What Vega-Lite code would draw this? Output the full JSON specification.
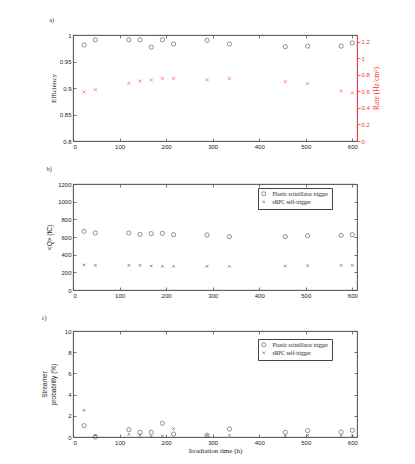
{
  "$schema": "https://vega.github.io/schema/vega-lite/v6.json",
  "padding": {"left": 41, "top": 16, "right": 5, "bottom": 5},
  "datasets": {
    "eff": [
      {"time": 24, "efficiency": 0.981, "rate": 0.592},
      {"time": 48, "efficiency": 0.991, "rate": 0.62},
      {"time": 120, "efficiency": 0.991, "rate": 0.696},
      {"time": 144, "efficiency": 0.991, "rate": 0.724},
      {"time": 168, "efficiency": 0.977, "rate": 0.736},
      {"time": 192, "efficiency": 0.991, "rate": 0.756},
      {"time": 216, "efficiency": 0.983, "rate": 0.756},
      {"time": 288, "efficiency": 0.99, "rate": 0.74},
      {"time": 336, "efficiency": 0.983, "rate": 0.756},
      {"time": 456, "efficiency": 0.978, "rate": 0.716},
      {"time": 504, "efficiency": 0.979, "rate": 0.692},
      {"time": 576, "efficiency": 0.979, "rate": 0.604},
      {"time": 600, "efficiency": 0.985, "rate": 0.58}
    ],
    "trig": [
      {"time": 24, "trigger": "Plastic scintillator trigger", "charge": 664, "streamer": 1.07},
      {"time": 48, "trigger": "Plastic scintillator trigger", "charge": 645, "streamer": 0.0},
      {"time": 120, "trigger": "Plastic scintillator trigger", "charge": 645, "streamer": 0.69},
      {"time": 144, "trigger": "Plastic scintillator trigger", "charge": 630, "streamer": 0.44},
      {"time": 168, "trigger": "Plastic scintillator trigger", "charge": 638, "streamer": 0.44},
      {"time": 192, "trigger": "Plastic scintillator trigger", "charge": 641, "streamer": 1.29},
      {"time": 216, "trigger": "Plastic scintillator trigger", "charge": 626, "streamer": 0.28},
      {"time": 288, "trigger": "Plastic scintillator trigger", "charge": 623, "streamer": 0.16},
      {"time": 336, "trigger": "Plastic scintillator trigger", "charge": 604, "streamer": 0.75},
      {"time": 456, "trigger": "Plastic scintillator trigger", "charge": 604, "streamer": 0.44},
      {"time": 504, "trigger": "Plastic scintillator trigger", "charge": 615, "streamer": 0.6},
      {"time": 576, "trigger": "Plastic scintillator trigger", "charge": 619, "streamer": 0.47},
      {"time": 600, "trigger": "Plastic scintillator trigger", "charge": 626, "streamer": 0.63},
      {"time": 24, "trigger": "sRPC self-trigger", "charge": 283, "streamer": 2.52},
      {"time": 48, "trigger": "sRPC self-trigger", "charge": 279, "streamer": 0.19},
      {"time": 120, "trigger": "sRPC self-trigger", "charge": 279, "streamer": 0.25},
      {"time": 144, "trigger": "sRPC self-trigger", "charge": 279, "streamer": 0.16},
      {"time": 168, "trigger": "sRPC self-trigger", "charge": 272, "streamer": 0.06},
      {"time": 192, "trigger": "sRPC self-trigger", "charge": 268, "streamer": 0.09},
      {"time": 216, "trigger": "sRPC self-trigger", "charge": 268, "streamer": 0.79},
      {"time": 288, "trigger": "sRPC self-trigger", "charge": 268, "streamer": 0.16},
      {"time": 336, "trigger": "sRPC self-trigger", "charge": 268, "streamer": 0.16},
      {"time": 456, "trigger": "sRPC self-trigger", "charge": 272, "streamer": 0.09},
      {"time": 504, "trigger": "sRPC self-trigger", "charge": 275, "streamer": 0.16},
      {"time": 576, "trigger": "sRPC self-trigger", "charge": 279, "streamer": 0.13},
      {"time": 600, "trigger": "sRPC self-trigger", "charge": 279, "streamer": 0.13}
    ]
  },
  "config": {
    "view": {"stroke": "#555", "strokeWidth": 0.8},
    "axis": {
      "grid": false,
      "labelFont": "Liberation Sans",
      "titleFont": "Liberation Serif",
      "labelFontSize": 6,
      "titleFontSize": 7,
      "titleFontWeight": "normal",
      "domainColor": "#555",
      "tickColor": "#555",
      "labelColor": "#222",
      "titleColor": "#222",
      "tickSize": -3,
      "labelPadding": 5,
      "domainWidth": 0.8,
      "tickWidth": 0.8
    },
    "title": {"font": "Liberation Serif", "fontSize": 6, "fontWeight": "normal", "anchor": "start", "color": "#222", "offset": 9},
    "legend": {
      "orient": "none",
      "legendX": 185,
      "legendY": 4,
      "strokeColor": "#444",
      "fillColor": "white",
      "padding": 3,
      "labelFont": "Liberation Serif",
      "labelFontSize": 5.5,
      "labelColor": "#222",
      "symbolSize": 16,
      "symbolStrokeColor": "#222",
      "symbolStrokeWidth": 0.7,
      "rowPadding": 1,
      "labelOffset": 6,
      "title": null
    },
    "concat": {"spacing": 15}
  },
  "resolve": {"scale": {"shape": "independent"}, "legend": {"shape": "independent"}},
  "vconcat": [
    {
      "title": "a)",
      "width": 284,
      "height": 106,
      "data": {"name": "eff"},
      "layer": [
        {
          "mark": {"type": "point", "shape": "circle", "size": 18, "filled": false, "stroke": "#222", "strokeWidth": 0.7},
          "encoding": {
            "x": {"field": "time", "type": "quantitative", "scale": {"domain": [0, 610], "nice": false}, "axis": {"values": [0, 100, 200, 300, 400, 500, 600], "title": null}},
            "y": {"field": "efficiency", "type": "quantitative", "scale": {"domain": [0.8, 1], "nice": false, "zero": false}, "axis": {"values": [0.8, 0.85, 0.9, 0.95, 1], "format": "~g", "title": "Efficiency", "titlePadding": 3}}
          }
        },
        {
          "mark": {"type": "point", "shape": "M-1,-1L1,1M-1,1L1,-1", "size": 10, "filled": false, "stroke": "#ff2020", "strokeWidth": 0.7},
          "encoding": {
            "x": {"field": "time", "type": "quantitative", "axis": {"orient": "top", "values": [0, 100, 200, 300, 400, 500, 600], "labels": false, "title": null}},
            "y": {"field": "rate", "type": "quantitative", "scale": {"domain": [0, 1.28], "nice": false}, "axis": {"orient": "right", "values": [0, 0.2, 0.4, 0.6, 0.8, 1, 1.2], "format": "~g", "title": "Rate (Hz/cm²)", "titleAngle": 270, "titleBaseline": "top", "titleFontSize": 7.5, "domainColor": "#ff3030", "tickColor": "#ff3030", "labelColor": "#ff3030", "titleColor": "#ff3030", "tickSize": 3, "labelPadding": 1, "titlePadding": 3}}
          }
        }
      ],
      "resolve": {"scale": {"y": "independent"}, "axis": {"x": "independent", "y": "independent"}}
    },
    {
      "title": "b)",
      "width": 284,
      "height": 106,
      "data": {"name": "trig"},
      "layer": [
        {
          "mark": {"type": "point", "size": 18, "filled": false, "stroke": "#222", "strokeWidth": 0.7},
          "encoding": {
            "x": {"field": "time", "type": "quantitative", "scale": {"domain": [0, 610], "nice": false}, "axis": {"values": [0, 100, 200, 300, 400, 500, 600], "title": null}},
            "y": {"field": "charge", "type": "quantitative", "scale": {"domain": [0, 1200], "nice": false}, "axis": {"values": [0, 200, 400, 600, 800, 1000, 1200], "format": "d", "title": "<Q> (fC)", "titleFont": "Liberation Sans", "titleFontSize": 6.5, "titlePadding": 5}},
            "shape": {"field": "trigger", "type": "nominal", "scale": {"domain": ["Plastic scintillator trigger", "sRPC self-trigger"], "range": ["circle", "M-0.6,-0.6L0.6,0.6M-0.6,0.6L0.6,-0.6"]}}
          }
        },
        {
          "mark": {"type": "point", "opacity": 0},
          "encoding": {
            "x": {"field": "time", "type": "quantitative", "axis": {"orient": "top", "values": [0, 100, 200, 300, 400, 500, 600], "labels": false, "title": null}},
            "y": {"field": "charge", "type": "quantitative", "axis": {"orient": "right", "values": [0, 200, 400, 600, 800, 1000, 1200], "labels": false, "title": null}}
          }
        }
      ],
      "resolve": {"axis": {"x": "independent", "y": "independent"}}
    },
    {
      "title": {"text": "c)", "offset": 7},
      "width": 284,
      "height": 106,
      "data": {"name": "trig"},
      "layer": [
        {
          "mark": {"type": "point", "size": 18, "filled": false, "stroke": "#222", "strokeWidth": 0.7},
          "encoding": {
            "x": {"field": "time", "type": "quantitative", "scale": {"domain": [0, 610], "nice": false}, "axis": {"values": [0, 100, 200, 300, 400, 500, 600], "title": "Irradiation time (h)", "titlePadding": 1}},
            "y": {"field": "streamer", "type": "quantitative", "scale": {"domain": [0, 10], "nice": false}, "axis": {"values": [0, 2, 4, 6, 8, 10], "format": "d", "title": ["Streamer", "probability (%)"], "titleFont": "Liberation Sans", "titleFontSize": 6.5, "titlePadding": 8}},
            "shape": {"field": "trigger", "type": "nominal", "scale": {"domain": ["Plastic scintillator trigger", "sRPC self-trigger"], "range": ["circle", "M-0.6,-0.6L0.6,0.6M-0.6,0.6L0.6,-0.6"]}, "legend": {"legendY": 8}}
          }
        },
        {
          "mark": {"type": "point", "opacity": 0},
          "encoding": {
            "x": {"field": "time", "type": "quantitative", "axis": {"orient": "top", "values": [0, 100, 200, 300, 400, 500, 600], "labels": false, "title": null}},
            "y": {"field": "streamer", "type": "quantitative", "axis": {"orient": "right", "values": [0, 2, 4, 6, 8, 10], "labels": false, "title": null}}
          }
        }
      ],
      "resolve": {"axis": {"x": "independent", "y": "independent"}}
    }
  ]
}
